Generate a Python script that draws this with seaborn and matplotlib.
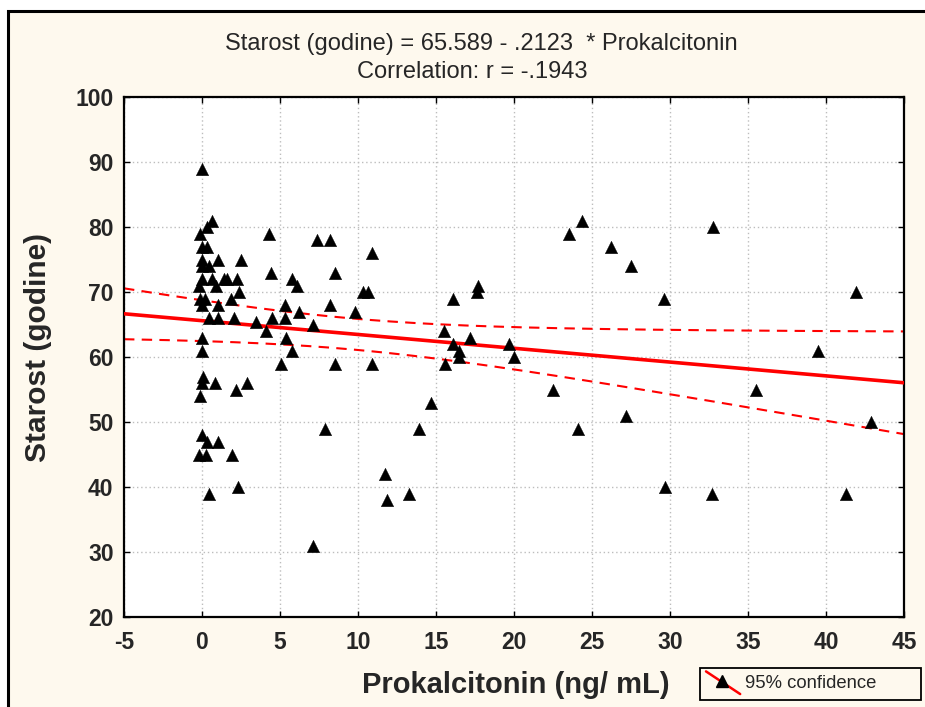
import numpy as np
import pandas as pd
import matplotlib
matplotlib.use("Agg")
import matplotlib.pyplot as plt
import matplotlib.patches as mpatches
from matplotlib.lines import Line2D
from matplotlib.legend_handler import HandlerBase
import seaborn as sns

# Procalcitonin (ng/mL) and age (years) per patient
prokalcitonin = [
    0.0, -0.15, 0.34, 0.66, 0.0, 0.34, 0.0, 1.0, 2.5, 0.0, 0.45,
    0.0, 0.66, 1.4, 1.6, 2.27, -0.2, 0.9, 2.4, -0.1, 0.2, 1.84,
    0.0, 1.0, 0.45, 1.0, 2.05, 0.0, 0.0, 0.06, 0.0, 0.83, 2.16,
    2.87, -0.15, 0.0, 0.34, 1.0, -0.2, 0.24, 1.95, 0.45, 2.33,
    4.3, 4.4, 5.8, 6.1, 5.3, 3.45, 4.5, 5.3, 4.1, 5.4, 5.8, 5.05,
    7.36, 8.2, 10.9, 8.5, 10.35, 10.65, 6.2, 8.2, 9.8, 7.14, 8.55,
    10.9, 7.9, 13.9, 11.75, 13.3, 11.85, 7.14, 14.7, 15.6, 15.5,
    16.1, 17.6, 17.7, 17.2, 16.1, 16.5, 16.5, 19.7, 20.0, 22.5,
    24.1, 23.55, 24.35, 26.2, 27.5, 29.6, 32.75, 27.2, 29.65, 32.7,
    35.5, 39.5, 41.95, 42.9, 41.3,
]
starost = [
    89, 79, 80, 81, 77, 77, 75, 75, 75, 74, 74,
    72, 72, 72, 72, 72, 71, 71, 70, 69, 69, 69,
    68, 68, 66, 66, 66, 63, 61, 57, 56, 56, 55,
    56, 54, 48, 47, 47, 45, 45, 45, 39, 40,
    79, 73, 72, 71, 68, 65.4, 66, 66, 64, 63, 61, 59,
    78, 78, 76, 73, 70, 70, 67, 68, 67, 65, 59,
    59, 49, 49, 42, 39, 38, 31, 53, 59, 64,
    69, 70, 71, 63, 62, 61, 60, 62, 60, 55,
    49, 79, 81, 77, 74, 69, 80, 51, 40, 39,
    55, 61, 70, 50, 39,
]

# Regression coefficients as reported in the header
intercept = 65.589
slope = -0.2123
r_value = -0.1943

x_ticks = [-5, 0, 5, 10, 15, 20, 25, 30, 35, 40, 45]
y_ticks = [20, 30, 40, 50, 60, 70, 80, 90, 100]

df = pd.DataFrame({"Prokalcitonin": prokalcitonin, "Starost": starost})

# Fitted line and its 95% confidence band
x_arr = np.asarray(prokalcitonin, dtype=float)
y_arr = np.asarray(starost, dtype=float)
n = len(x_arr)
resid = y_arr - (intercept + slope * x_arr)
s_err = np.sqrt(np.sum(resid ** 2) / (n - 2))
x_mean = x_arr.mean()
sxx = np.sum((x_arr - x_mean) ** 2)
t_crit = 1.984  # two-sided 95% quantile of t with ~100 df

grid = np.linspace(x_ticks[0], x_ticks[-1], 200)
fit = intercept + slope * grid
half = t_crit * s_err * np.sqrt(1.0 / n + (grid - x_mean) ** 2 / sxx)
band = pd.DataFrame({"x": grid, "fit": fit, "lo": fit - half, "hi": fit + half})

sns.set_theme(style="white")
plt.rcParams["font.family"] = ["Liberation Sans", "DejaVu Sans"]

cream = "#FEF9EE"
W, H = 925, 707
fig = plt.figure(figsize=(W / 100, H / 100), dpi=100, facecolor="white")

# Outer panel frame
frame = mpatches.Rectangle((8 / W, -0.2), 1.3, 0.2 + 1 - 11 / H,
                           transform=fig.transFigure, facecolor=cream,
                           edgecolor="black", linewidth=2.2, zorder=-10)
fig.patches.append(frame)

ax = fig.add_axes([124 / W, 1 - 617 / H, (904 - 124) / W, (617 - 97) / H])
ax.set_facecolor("white")

sns.lineplot(data=band, x="x", y="hi", ax=ax, color="red", lw=1.5,
             linestyle=(0, (5, 3.5)), zorder=2)
sns.lineplot(data=band, x="x", y="lo", ax=ax, color="red", lw=1.5,
             linestyle=(0, (5, 3.5)), zorder=2)
sns.lineplot(data=band, x="x", y="fit", ax=ax, color="red", lw=2.6, zorder=3)
sns.scatterplot(data=df, x="Prokalcitonin", y="Starost", ax=ax, marker="^",
                s=80, color="black", edgecolor="black", linewidth=0.3, zorder=4)

ax.set_xlim(x_ticks[0], x_ticks[-1])
ax.set_ylim(y_ticks[0], y_ticks[-1])
ax.set_xticks(x_ticks)
ax.set_yticks(y_ticks)
ax.set_xticklabels([str(v) for v in x_ticks], fontsize=16.5, fontweight="bold")
ax.set_yticklabels([str(v) for v in y_ticks], fontsize=16.5, fontweight="bold")
ax.tick_params(axis="x", direction="in", length=4, width=1, color="black",
               top=True, bottom=True, pad=10)
ax.tick_params(axis="y", direction="in", length=4, width=1, color="black",
               left=True, right=True, pad=7.5)
ax.grid(True, color="#bdbdbd", linestyle=(0, (1, 2)), linewidth=1)
for sp in ax.spines.values():
    sp.set_color("black")
    sp.set_linewidth(1.6)

ax.set_xlabel("")
ax.set_ylabel("")
fig.text(516 / W, 1 - 685 / H, "Prokalcitonin (ng/ mL)", ha="center",
         va="center", fontsize=21, fontweight="bold")
fig.text(38 / W, 1 - 347 / H, "Starost (godine)", ha="center", va="center",
         rotation=90, fontsize=21.5, fontweight="bold")

fig.text(481 / W, 1 - 44 / H,
         f"Starost (godine) = {intercept:.3f} - {abs(slope):.4f}  * Prokalcitonin".replace(" 0.", " ."),
         ha="center", va="center", fontsize=17)
fig.text(472 / W, 1 - 72 / H,
         f"Correlation: r = -{abs(r_value):.4f}".replace("-0.", "-."),
         ha="center", va="center", fontsize=17)


class DiagonalHandler(HandlerBase):
    def create_artists(self, legend, orig_handle, xdescent, ydescent,
                       width, height, fontsize, trans):
        line = Line2D([-xdescent, width - xdescent],
                      [height - ydescent + 3, -ydescent - 4],
                      color="red", lw=1.8, transform=trans)
        mark = Line2D([(width - 2 * xdescent) / 2 - 1], [height / 2 - ydescent + 1],
                      marker="^", color="black", markersize=8.5, lw=0,
                      transform=trans)
        return [line, mark]


# Legend box drawn as a plain rectangle, legend entry placed inside it
box = mpatches.Rectangle((700 / W, 1 - 700 / H), 221 / W, 32 / H,
                         transform=fig.transFigure, facecolor=cream,
                         edgecolor="black", linewidth=1.3, zorder=5)
fig.patches.append(box)
handle = Line2D([], [], color="red", marker="^")
leg = fig.legend([handle], ["95% confidence"], handler_map={Line2D: DiagonalHandler()},
                 loc="center left", bbox_to_anchor=(706 / W, 1 - 684 / H),
                 fontsize=13.3, frameon=False, borderpad=0,
                 handlelength=1.85, handletextpad=0.25, borderaxespad=0)
leg.set_zorder(6)

fig.savefig("out.png", dpi=100, facecolor="white")
